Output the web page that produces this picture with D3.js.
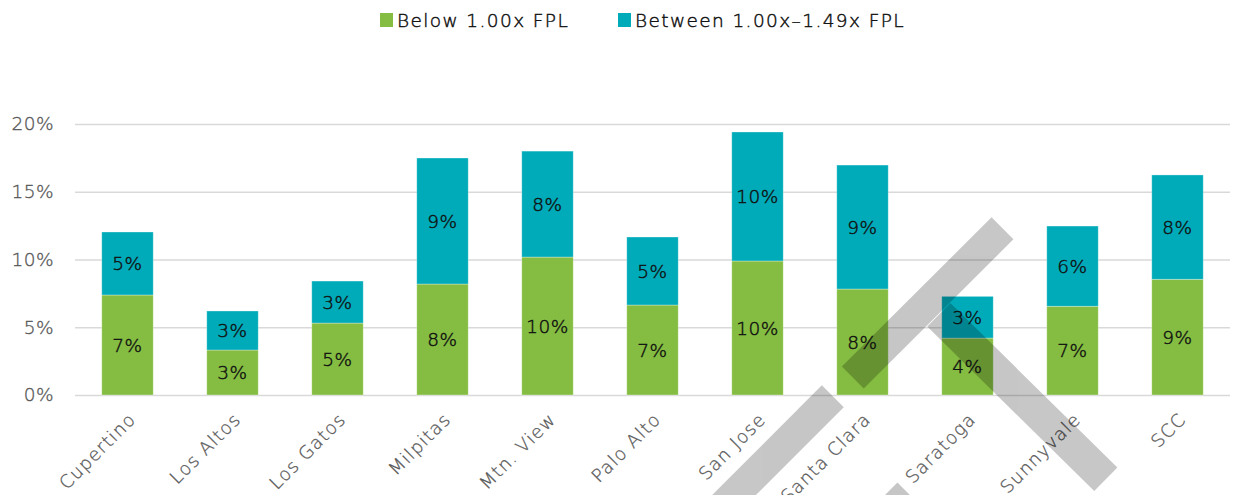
<!DOCTYPE html>
<html>
<head>
<meta charset="utf-8">
<script src="https://cdn.jsdelivr.net/npm/d3@7"></script>
<style>
  body { margin: 0; background: #fff; }
  text { font-family: "DejaVu Sans", sans-serif; font-weight: 200; }
</style>
</head>
<body>
<div id="main"></div>
<script>
// values, in percent
const cities = ['Cupertino', 'Los Altos', 'Los Gatos', 'Milpitas', 'Mtn. View', 'Palo Alto',
                'San Jose', 'Santa Clara', 'Saratoga', 'Sunnyvale', 'SCC'];
const below100 = [7.38, 3.32, 5.31, 8.19, 10.18, 6.64, 9.89, 7.82, 4.2, 6.55, 8.54];
const between100149 = [4.65, 2.88, 3.1, 9.3, 7.82, 5.02, 9.52, 9.15, 3.08, 5.92, 7.7];
const seriesNames = ['Below 1.00x FPL', 'Between 1.00x\u20131.49x FPL'];
const yTicks = [0, 5, 10, 15, 20];

const width = 1242, height = 495;
const margin = { left: 75, right: 12, top: 124, bottom: 100 };
const colors = ['#84bd41', '#00abb9'];

const svg = d3.select('#main')
  .append('svg')
  .attr('width', width)
  .attr('height', height);

const xScale = d3.scaleBand()
  .range([margin.left, width - margin.right])
  .domain(cities)
  .paddingInner(0.51)
  .paddingOuter(0.255);

const yScale = d3.scaleLinear()
  .range([height - margin.bottom, margin.top])
  .domain([0, 20]);

// gridlines
const yAxis = d3.axisLeft(yScale)
  .tickValues(yTicks)
  .tickSize(-(width - margin.left - margin.right))
  .tickFormat(d => d + '%');

svg.append('g')
  .attr('class', 'y axis')
  .attr('transform', `translate(${margin.left},0)`)
  .call(yAxis)
  .call(g => g.select('.domain').remove())
  .call(g => g.selectAll('line').attr('stroke', '#d9d9d9').attr('stroke-width', 1.5))
  .call(g => g.selectAll('text')
    .attr('x', -21)
    .attr('fill', '#595959')
    .attr('stroke', '#595959')
    .attr('stroke-width', 0.35)
    .style('font-size', '18.5px')
    .style('letter-spacing', '0.5px'));

// stacked data
const rows = cities.map((c, i) => ({ city: c, a: below100[i], b: between100149[i] }));
const stacked = d3.stack().keys(['a', 'b'])(rows);

const layers = svg.selectAll('g.layer')
  .data(stacked)
  .join('g')
  .attr('class', 'layer')
  .attr('fill', (d, i) => colors[i]);

layers.selectAll('rect')
  .data(d => d)
  .join('rect')
  .attr('x', d => xScale(d.data.city))
  .attr('y', d => yScale(d[1]))
  .attr('height', d => yScale(d[0]) - yScale(d[1]))
  .attr('width', xScale.bandwidth())
  .attr('stroke', '#ffffff')
  .attr('stroke-opacity', 0.4)
  .attr('stroke-width', 0.8);

layers.selectAll('text')
  .data(d => d)
  .join('text')
  .attr('x', d => xScale(d.data.city) + xScale.bandwidth() / 2)
  .attr('y', d => (yScale(d[0]) + yScale(d[1])) / 2)
  .attr('dy', '0.36em')
  .attr('text-anchor', 'middle')
  .attr('fill', '#111')
  .attr('stroke', '#111')
  .attr('stroke-width', 0.45)
  .style('font-size', '18.5px')
  .style('letter-spacing', '0.5px')
  .text(d => Math.round(d[1] - d[0]) + '%');

// x labels
const xAxis = d3.axisBottom(xScale).tickSize(0);
svg.append('g')
  .attr('transform', `translate(0,${height - margin.bottom})`)
  .call(xAxis)
  .call(g => g.select('.domain').remove())
  .selectAll('text')
  .style('text-anchor', 'end')
  .style('font-size', '18px')
  .style('letter-spacing', '1.2px')
  .attr('fill', '#595959')
  .attr('stroke', '#595959')
  .attr('stroke-width', 0.3)
  .attr('x', 0)
  .attr('y', 0)
  .attr('dy', '0.35em')
  .attr('transform', d => `translate(5,21) rotate(-45)`);

// legend
const legend = svg.append('g').attr('class', 'legend');
const legendX = [380, 618];
seriesNames.forEach((name, i) => {
  legend.append('rect')
    .attr('x', legendX[i])
    .attr('y', 13)
    .attr('width', 13)
    .attr('height', 14)
    .attr('fill', colors[i]);
  legend.append('text')
    .attr('x', legendX[i] + 17)
    .attr('y', 27)
    .attr('fill', '#111')
    .attr('stroke', '#111')
    .attr('stroke-width', 0.45)
    .style('font-size', '18.5px')
    .style('letter-spacing', '1.4px')
    .text(name);
});

// grey watermark strokes over the plot
const mark = svg.append('g').attr('fill', '#000').attr('opacity', 0.22);
const band = (x1, y1, x2, y2, w) => {
  const dx = x2 - x1, dy = y2 - y1, len = Math.hypot(dx, dy);
  const nx = -dy / len * w / 2, ny = dx / len * w / 2;
  return [[x1 + nx, y1 + ny], [x2 + nx, y2 + ny], [x2 - nx, y2 - ny], [x1 - nx, y1 - ny]];
};
const strokes = [
  band(852.8, 377.5, 1002.5, 228.3, 31),
  band(938.8, 314.8, 1105.8, 479.2, 33),
  band(832.8, 396.3, 700, 529, 31),
  band(890, 490, 920, 520, 21)
];
mark.selectAll('polygon')
  .data(strokes)
  .join('polygon')
  .attr('points', d => d.map(p => p.join(',')).join(' '));
</script>
</body>
</html>
